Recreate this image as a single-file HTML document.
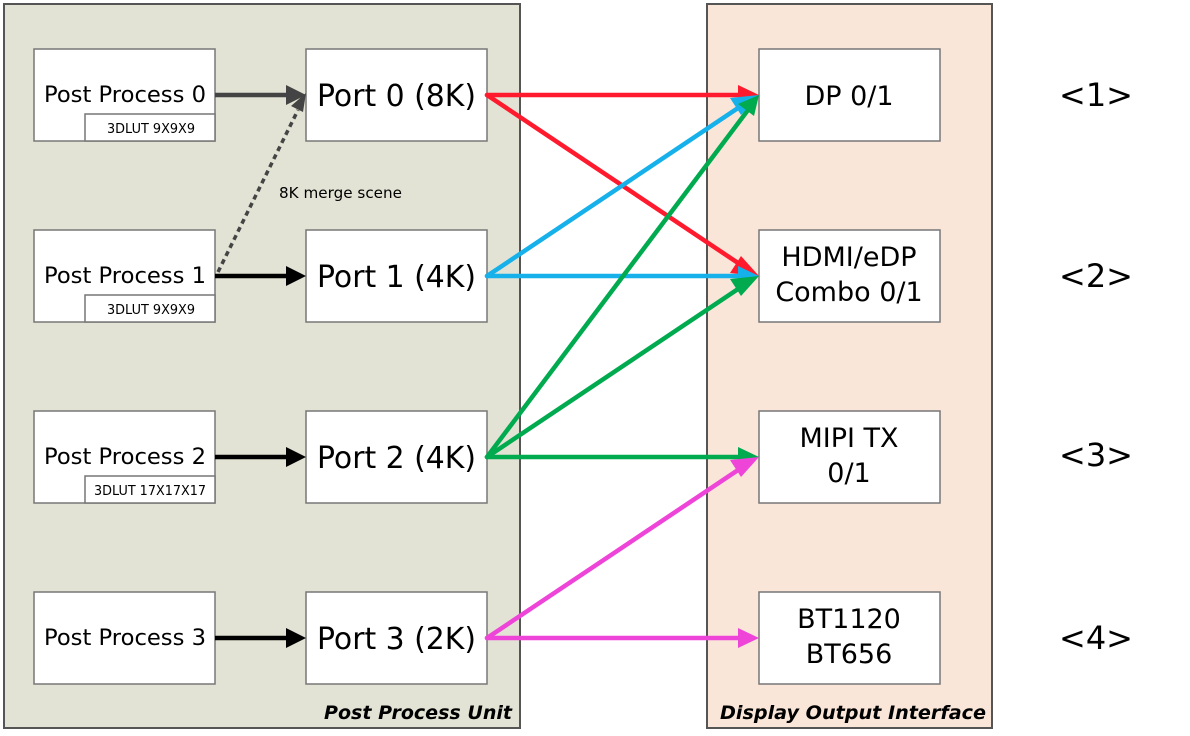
<!DOCTYPE html>
<html><head><meta charset="utf-8"><style>
html,body{margin:0;padding:0;background:#fff;}
svg{display:block;}
text{font-family:"DejaVu Sans","Liberation Sans",sans-serif;fill:#000;}
</style></head><body>
<svg width="1190" height="736" viewBox="0 0 1190 736" xmlns="http://www.w3.org/2000/svg">
<rect x="4" y="4" width="516" height="724" fill="#e2e3d4" stroke="#555" stroke-width="2"/>
<rect x="707" y="4" width="285" height="724" fill="#f9e6d9" stroke="#555" stroke-width="2"/>
<text x="512" y="719" text-anchor="end" font-size="19" font-weight="bold" font-style="italic" textLength="188" lengthAdjust="spacingAndGlyphs">Post Process Unit</text>
<text x="986" y="719" text-anchor="end" font-size="19" font-weight="bold" font-style="italic" textLength="266" lengthAdjust="spacingAndGlyphs">Display Output Interface</text>

<g stroke="#777" stroke-width="1.5" fill="#fff">
<rect x="34" y="49" width="181" height="92"/>
<rect x="34" y="230" width="181" height="92"/>
<rect x="34" y="411" width="181" height="92"/>
<rect x="34" y="592" width="181" height="92"/>
<rect x="85" y="114" width="130" height="27"/>
<rect x="85" y="295" width="130" height="27"/>
<rect x="85" y="476" width="130" height="27"/>
<rect x="306" y="49" width="181" height="92"/>
<rect x="306" y="230" width="181" height="92"/>
<rect x="306" y="411" width="181" height="92"/>
<rect x="306" y="592" width="181" height="92"/>
<rect x="759" y="49" width="181" height="92"/>
<rect x="759" y="230" width="181" height="92"/>
<rect x="759" y="411" width="181" height="92"/>
<rect x="759" y="592" width="181" height="92"/>
</g>

<g font-size="22">
<text x="44" y="102" textLength="162" lengthAdjust="spacingAndGlyphs">Post Process 0</text>
<text x="44" y="283" textLength="162" lengthAdjust="spacingAndGlyphs">Post Process 1</text>
<text x="44" y="464" textLength="162" lengthAdjust="spacingAndGlyphs">Post Process 2</text>
<text x="44" y="645" textLength="162" lengthAdjust="spacingAndGlyphs">Post Process 3</text>
</g>
<g font-size="13">
<text x="107" y="133" textLength="88" lengthAdjust="spacingAndGlyphs">3DLUT 9X9X9</text>
<text x="107" y="314" textLength="88" lengthAdjust="spacingAndGlyphs">3DLUT 9X9X9</text>
<text x="94" y="495" textLength="112" lengthAdjust="spacingAndGlyphs">3DLUT 17X17X17</text>
</g>
<text x="279" y="198" font-size="15" textLength="123" lengthAdjust="spacingAndGlyphs">8K merge scene</text>
<g font-size="30">
<text x="317" y="106" textLength="159" lengthAdjust="spacingAndGlyphs">Port 0 (8K)</text>
<text x="317" y="287" textLength="159" lengthAdjust="spacingAndGlyphs">Port 1 (4K)</text>
<text x="317" y="468" textLength="159" lengthAdjust="spacingAndGlyphs">Port 2 (4K)</text>
<text x="317" y="649" textLength="159" lengthAdjust="spacingAndGlyphs">Port 3 (2K)</text>
</g>
<g font-size="27" text-anchor="middle">
<text x="849" y="105">DP 0/1</text>
<text x="849" y="266">HDMI/eDP</text>
<text x="849" y="301">Combo 0/1</text>
<text x="849" y="447">MIPI TX</text>
<text x="849" y="482">0/1</text>
<text x="849" y="628">BT1120</text>
<text x="849" y="663">BT656</text>
</g>
<g font-size="32" text-anchor="middle" style="font-family:'Liberation Sans',sans-serif">
<text x="1096" y="106">&lt;1&gt;</text>
<text x="1096" y="287">&lt;2&gt;</text>
<text x="1096" y="466">&lt;3&gt;</text>
<text x="1096" y="649">&lt;4&gt;</text>
</g>

<g stroke-width="4.5" fill="none">
<line x1="215" y1="95" x2="292" y2="95" stroke="#444"/>
<line x1="215" y1="276" x2="292" y2="276" stroke="#000"/>
<line x1="215" y1="457" x2="292" y2="457" stroke="#000"/>
<line x1="215" y1="638" x2="292" y2="638" stroke="#000"/>
<line x1="218" y1="272" x2="298" y2="110" stroke="#444" stroke-width="3.5" stroke-dasharray="5,4"/>
</g>
<g fill="#000">
<polygon points="306,95 286,85 286,105" fill="#444"/>
<polygon points="306,276 286,266 286,286"/>
<polygon points="306,457 286,447 286,467"/>
<polygon points="306,638 286,628 286,648"/>
<polygon points="306,93 291,106 303,112" fill="#444"/>
</g>

<g stroke-width="4.5" fill="none" stroke-linecap="round">
<line x1="487" y1="95" x2="742" y2="95" stroke="#ff1a2e"/>
<line x1="487" y1="95" x2="744" y2="267" stroke="#ff1a2e"/>
<line x1="487" y1="276" x2="742" y2="276" stroke="#16b0ea"/>
<line x1="487" y1="276" x2="744" y2="104" stroke="#16b0ea"/>
<line x1="487" y1="457" x2="748" y2="110" stroke="#00aa4f"/>
<line x1="487" y1="457" x2="744" y2="285" stroke="#00aa4f"/>
<line x1="487" y1="457" x2="742" y2="457" stroke="#00aa4f"/>
<line x1="487" y1="638" x2="744" y2="466" stroke="#ee44d8"/>
<line x1="487" y1="638" x2="742" y2="638" stroke="#ee44d8"/>
</g>
<g>
<polygon points="759,95 738,85 738,105" fill="#ff1a2e"/>
<polygon points="759,276 741,256 730,273" fill="#ff1a2e"/>
<polygon points="759,276 738,266 738,286" fill="#16b0ea"/>
<polygon points="759,95 730,98 741,115" fill="#16b0ea"/>
<polygon points="759,95 738,104 754,116" fill="#00aa4f"/>
<polygon points="759,276 730,279 741,296" fill="#00aa4f"/>
<polygon points="759,457 738,447 738,467" fill="#00aa4f"/>
<polygon points="759,457 730,460 741,477" fill="#ee44d8"/>
<polygon points="759,638 738,628 738,648" fill="#ee44d8"/>
</g>
</svg>
</body></html>
